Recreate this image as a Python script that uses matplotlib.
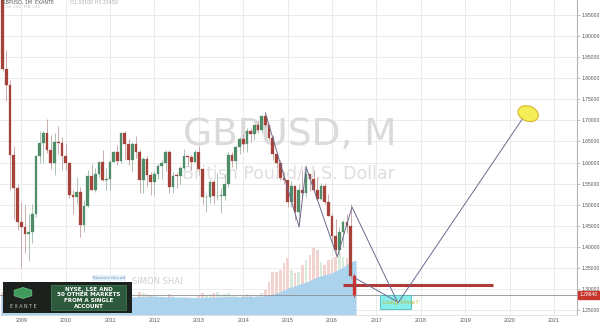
import matplotlib
matplotlib.use('Agg')
import matplotlib.pyplot as plt
from matplotlib.patches import Rectangle, Ellipse, RegularPolygon
import matplotlib.transforms as mtransforms

# ---------------- data ----------------
start_year, start_month = 2008, 8   # first candle: Aug 2008 (month index 0)

opens = [1.9910, 1.8215, 1.7830, 1.6190, 1.5390,
         1.4590, 1.4480, 1.4315, 1.4340, 1.4790, 1.6145, 1.6460, 1.6700, 1.6300, 1.5990, 1.6480, 1.6460,
         1.6150, 1.5980, 1.5230, 1.5170, 1.5290, 1.4510, 1.4960, 1.5680, 1.5340, 1.5720, 1.6020, 1.5580,
         1.5600, 1.6020, 1.6250, 1.6040, 1.6690, 1.6440, 1.6061, 1.6433, 1.6246, 1.5587, 1.6080, 1.5703,
         1.5541, 1.5718, 1.5910, 1.5994, 1.6242, 1.5415, 1.5688, 1.5685, 1.5864, 1.6148, 1.6127, 1.6017,
         1.6255, 1.5856, 1.5170, 1.5190, 1.5531, 1.5195, 1.5210, 1.5211, 1.5499, 1.6189, 1.6035, 1.6363,
         1.6560, 1.6438, 1.6752, 1.6670, 1.6880, 1.6760, 1.7105, 1.6880, 1.6585, 1.6211, 1.5995, 1.5642,
         1.5577, 1.5064, 1.5436, 1.4826, 1.5355, 1.5280, 1.5716, 1.5617, 1.5340, 1.5128, 1.5432, 1.5065,
         1.4738, 1.4250, 1.3920, 1.4360, 1.4600, 1.4490, 1.3310]
highs = [1.9960, 1.8660, 1.7950, 1.6390, 1.5497,
         1.5055, 1.4985, 1.4780, 1.5020, 1.6185, 1.6745, 1.6740, 1.7040, 1.6660, 1.6700, 1.6870, 1.6600,
         1.6460, 1.6010, 1.5340, 1.5650, 1.5420, 1.5110, 1.5830, 1.5960, 1.5880, 1.6000, 1.6300, 1.5860,
         1.6060, 1.6280, 1.6420, 1.6700, 1.6750, 1.6547, 1.6475, 1.6618, 1.6289, 1.6140, 1.6166, 1.5779,
         1.5793, 1.5964, 1.6058, 1.6301, 1.6300, 1.5776, 1.5751, 1.5908, 1.6310, 1.6173, 1.6171, 1.6308,
         1.6381, 1.5860, 1.5242, 1.5605, 1.5605, 1.5751, 1.5386, 1.5717, 1.6260, 1.6259, 1.6385, 1.6603,
         1.6668, 1.6822, 1.6822, 1.6852, 1.6996, 1.7063, 1.7192, 1.6888, 1.6644, 1.6227, 1.6050, 1.5786,
         1.5588, 1.5552, 1.5450, 1.5498, 1.5815, 1.5930, 1.5735, 1.5819, 1.5659, 1.5509, 1.5508, 1.5242,
         1.4814, 1.4669, 1.4459, 1.4640, 1.4770, 1.5018, 1.3345]
lows = [1.8170, 1.7450, 1.5350, 1.4650, 1.4390,
        1.3503, 1.3860, 1.3657, 1.4100, 1.4710, 1.6000, 1.6000, 1.6220, 1.5840, 1.5710, 1.6200, 1.5830,
        1.5820, 1.5150, 1.4780, 1.5020, 1.4230, 1.4350, 1.4950, 1.5350, 1.5300, 1.5650, 1.5550, 1.5350,
        1.5340, 1.6010, 1.5950, 1.6000, 1.6080, 1.5940, 1.5780, 1.6103, 1.5271, 1.5272, 1.5420, 1.5234,
        1.5233, 1.5599, 1.5603, 1.5805, 1.5269, 1.5268, 1.5392, 1.5490, 1.5852, 1.5914, 1.5828, 1.6014,
        1.5700, 1.5015, 1.4830, 1.5032, 1.5008, 1.5110, 1.4814, 1.5102, 1.5422, 1.5894, 1.5854, 1.6212,
        1.6252, 1.6250, 1.6479, 1.6531, 1.6693, 1.6693, 1.6843, 1.6534, 1.6052, 1.5875, 1.5591, 1.5486,
        1.4952, 1.4952, 1.4634, 1.4566, 1.5170, 1.5170, 1.5330, 1.5330, 1.5106, 1.5107, 1.5027, 1.4733,
        1.4080, 1.3836, 1.3836, 1.4006, 1.4331, 1.3229, 1.2798]
closes = [1.8215, 1.7830, 1.6190, 1.5390, 1.4590,
          1.4480, 1.4315, 1.4340, 1.4790, 1.6145, 1.6460, 1.6700, 1.6300, 1.5990, 1.6480, 1.6460, 1.6150,
          1.5980, 1.5230, 1.5170, 1.5290, 1.4510, 1.4960, 1.5680, 1.5340, 1.5720, 1.6020, 1.5580, 1.5600,
          1.6020, 1.6250, 1.6040, 1.6690, 1.6440, 1.6061, 1.6433, 1.6246, 1.5587, 1.6080, 1.5703, 1.5541,
          1.5718, 1.5910, 1.5994, 1.6242, 1.5415, 1.5688, 1.5685, 1.5864, 1.6148, 1.6127, 1.6017, 1.6255,
          1.5856, 1.5170, 1.5190, 1.5531, 1.5195, 1.5210, 1.5211, 1.5499, 1.6189, 1.6035, 1.6363, 1.6560,
          1.6438, 1.6752, 1.6670, 1.6880, 1.6760, 1.7105, 1.6880, 1.6585, 1.6211, 1.5995, 1.5642, 1.5577,
          1.5064, 1.5436, 1.4826, 1.5355, 1.5280, 1.5716, 1.5617, 1.5340, 1.5128, 1.5432, 1.5065, 1.4738,
          1.4250, 1.3920, 1.4360, 1.4600, 1.4490, 1.3310, 1.2864]

# tick volume (thousands) and its moving average
volumes = [230, 250, 260, 220, 200,
           210, 200, 220, 190, 200, 180, 170, 160, 180, 190, 170, 180,
           190, 200, 210, 190, 230, 200, 190, 180, 190, 200, 210, 180,
           190, 170, 200, 180, 190, 180, 170, 180, 230, 220, 210, 200,
           200, 180, 170, 160, 210, 190, 170, 160, 180, 160, 170, 160,
           190, 220, 200, 210, 220, 230, 200, 210, 220, 190, 200, 180,
           190, 210, 200, 180, 190, 220, 250, 330, 430, 430, 450, 520,
           570, 450, 420, 430, 500, 550, 600, 670, 650, 530, 500, 550,
           560, 580, 620, 580, 570, 550, 200]
volume_ma = [190, 195, 200, 200, 200,
             200, 198, 196, 194, 192, 190, 188, 186, 185, 184, 183, 182,
             182, 182, 183, 184, 185, 185, 185, 184, 184, 184, 185, 185,
             185, 184, 184, 184, 184, 184, 183, 183, 185, 186, 187, 188,
             188, 187, 185, 183, 183, 182, 181, 180, 179, 178, 177, 176,
             176, 177, 178, 179, 180, 181, 182, 183, 184, 185, 185, 186,
             186, 187, 188, 188, 189, 190, 193, 200, 210, 222, 235, 250,
             268, 280, 292, 305, 318, 330, 345, 362, 380, 392, 402, 412,
             425, 440, 460, 480, 505, 530, 545]

last_price = 1.28640
year_labels = [str(y) for y in range(2009, 2022)]
price_ticks = [1.25, 1.30, 1.35, 1.40, 1.45, 1.50, 1.55, 1.60, 1.65, 1.70, 1.75, 1.80, 1.85, 1.90, 1.95]

# drawings (month index, price)
zigzag_m = [71.0, 80.1, 82.0, 90.4, 94.4, 106.8, 141.7]
zigzag_p = [1.7174, 1.4470, 1.5890, 1.3757, 1.4944, 1.2666, 1.7198]
line2_m = [95.2, 106.8]
line2_p = [1.3260, 1.2690]
support_m = [92.0, 132.5]
support_p = [1.3090, 1.3090]
target_box = (102.0, 110.4, 1.2523, 1.2856)    # m0, m1, p0, p1
target_circle = (142.0, 1.7160)
target_text = "Long time?"

# ---------------- figure ----------------
W, H = 600, 324
fig = plt.figure(figsize=(W / 100, H / 100), dpi=100)
ax = fig.add_axes([0, 9 / H, 577 / W, 315 / H])
ax.set_xlim(-0.73, 155.2)
ax.set_ylim(1.2382, 1.9856)
ax.set_facecolor('white')
LAB = ['Liberation Sans', 'DejaVu Sans']

# grid / ticks
year_pos = [(int(y) - start_year) * 12 + (1 - start_month) for y in year_labels]
ax.set_xticks(year_pos)
ax.set_xticklabels(year_labels, family=LAB)
ax.set_yticks(price_ticks)
ax.set_yticklabels(['%.5f' % v for v in price_ticks], family=LAB)
ax.grid(True, color='#ebebeb', lw=0.7, zorder=0)
ax.set_axisbelow(True)
ax.yaxis.tick_right()
ax.tick_params(axis='y', length=2, width=0.5, color='#aaaaaa', labelsize=3.6, labelcolor='#555555', pad=1)
ax.tick_params(axis='x', length=0, labelsize=3.8, labelcolor='#555555', pad=2.2)
for s in ['top', 'left']:
    ax.spines[s].set_visible(False)
ax.spines['right'].set_color('#b5b5b5')
ax.spines['right'].set_linewidth(0.8)
ax.spines['bottom'].set_color('#dddddd')
ax.spines['bottom'].set_linewidth(0.6)

# watermark
ax.text(0.503, 0.572, 'GBPUSD, M', transform=ax.transAxes, ha='center', va='center',
        fontsize=27, color='#dadada', zorder=1)
ax.text(0.50, 0.45, 'British Pound/U.S. Dollar', transform=ax.transAxes, ha='center', va='center',
        fontsize=12.5, color='#dedede', zorder=1)

# volume (in lower part of pane)
vol_scale = 0.1 / 315.0   # axes-fraction per thousand ticks
vtrans = mtransforms.blended_transform_factory(ax.transData, ax.transAxes)
for i, v in enumerate(volumes):
    col = '#d8ead9' if closes[i] >= opens[i] else '#f3d3d0'
    ax.add_patch(Rectangle((i - 0.36, 0), 0.72, v * vol_scale, transform=vtrans,
                           facecolor=col, edgecolor='none', zorder=1.5))
ma_x = [-0.5] + list(range(len(volume_ma))) + [len(volume_ma) - 0.5]
ma_y = [volume_ma[0]] + volume_ma + [volume_ma[-1]]
ax.fill_between(ma_x, 0, [v * vol_scale for v in ma_y], transform=vtrans,
                color='#a9d2ee', lw=0, zorder=1.6, alpha=0.95)

# candles
for i in range(len(opens)):
    o, h, l, c = opens[i], highs[i], lows[i], closes[i]
    up = c >= o
    body = '#4f8c68' if up else '#a5433b'
    wick = '#9fb9aa' if up else '#c3a09c'
    if i == len(opens) - 1:
        body = '#d2302a'
        wick = '#d2302a'
    ax.vlines(i, l, h, color=wick, lw=0.6, zorder=3)
    ax.add_patch(Rectangle((i - 0.36, min(o, c)), 0.72, max(abs(c - o), 0.0015),
                           facecolor=body, edgecolor=body, lw=0.2, zorder=3.2))

# drawings
ax.axhline(last_price, color='#8f8f8f', lw=0.6, zorder=2.5)
ax.plot(support_m, support_p, color='#b03a3a', lw=2.2, solid_capstyle='butt', zorder=4)
ax.plot(zigzag_m, zigzag_p, color='#6d6a8e', lw=0.7, zorder=4.2)
ax.plot(line2_m, line2_p, color='#6d6a8e', lw=0.7, zorder=4.2)
m0, m1, p0, p1 = target_box
ax.add_patch(Rectangle((m0, p0), m1 - m0, p1 - p0, facecolor='#86eeea', edgecolor='#4bb8b5',
                       lw=0.6, zorder=4.1))
ax.text(m0 + 0.7, (p0 + p1) / 2, target_text, fontsize=4.6, color='#c9b637', ha='left', va='center',
        zorder=4.5)

# last price label on the price scale
ptrans = mtransforms.blended_transform_factory(fig.transFigure, ax.transData)
ax.text(589 / W, last_price, '%.5f' % last_price, transform=ptrans, ha='center', va='center',
        fontsize=3.6, family=LAB, color='white', clip_on=False, zorder=6,
        bbox=dict(boxstyle='square,pad=0.3', fc='#c8352d', ec='#c8352d'))

# yellow target ellipse (pixel-sized)
fig.canvas.draw()
cx, cy = ax.transData.transform(target_circle)
fig.add_artist(Ellipse((cx, cy), 21, 15, angle=-20, transform=mtransforms.IdentityTransform(),
                       facecolor='#f6ee57', edgecolor='#d6b62a', lw=0.8, zorder=5))

# top-left header
fig.text(2 / W, 1 - 2.5 / H, 'GBPUSD, 1M  EXANTE', fontsize=3.4, color='#555555', va='center')
fig.text(70 / W, 1 - 2.5 / H, 'O1.33100 H1.33450', fontsize=3.4, color='#aaaaaa', va='center')
fig.text(5 / W, 1 - 7 / H, 'Vol 200  MA 545', fontsize=3.2, color='#c8c8c8', va='center')

# publisher + ad
fig.text(132 / W, 1 - 282 / H, 'SIMON SHAI', fontsize=6, color='#cfcfcf', va='center', ha='left')
fig.text(109 / W, 1 - 278 / H, 'Remove this ad', fontsize=3, color='#6f97c4', va='center', ha='center',
         bbox=dict(boxstyle='square,pad=0.2', fc='#e6f0fa', ec='none'))


def fig_rect(x, y, w, h, **kw):
    fig.add_artist(Rectangle((x / W, 1 - (y + h) / H), w / W, h / H, transform=fig.transFigure, **kw))


fig_rect(3, 282, 129, 31, facecolor='#1c211e', edgecolor='none', zorder=6)
fig_rect(51, 285, 75, 25, facecolor='#2d5a3c', edgecolor='#3f7a52', lw=0.6, zorder=6.1)
for k, line in enumerate(['NYSE, LSE AND', '50 OTHER MARKETS', 'FROM A SINGLE', 'ACCOUNT']):
    fig.text(88.5 / W, 1 - (289 + k * 5.8) / H, line, fontsize=4.1, color='white', fontweight='bold',
             ha='center', va='center', zorder=7)
fig.add_artist(RegularPolygon((23 / W, 1 - 293 / H), 6, radius=5.5 / H, transform=fig.transFigure,
                              facecolor='#3f9a5c', edgecolor='#6cc487', lw=0.5, zorder=7))
fig.text(23 / W, 1 - 306 / H, 'E X A N T E', fontsize=3.4, color='#c9cfcb', ha='center', va='center',
         zorder=7)

fig.savefig('out.png', dpi=100)
